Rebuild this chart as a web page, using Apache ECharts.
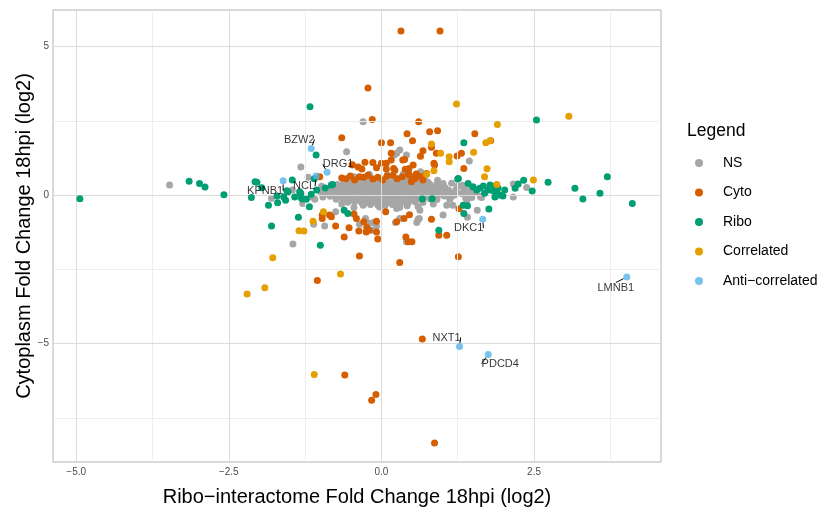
<!DOCTYPE html>
<html><head><meta charset="utf-8">
<script src="https://cdn.jsdelivr.net/npm/echarts@6/dist/echarts.min.js"></script>
<style>html,body{margin:0;padding:0;background:#fff}#c{width:829px;height:510px}</style>
</head><body><div id="c"></div>
<script>
// ---- data ----
const xTicks = [-5, -2.5, 0, 2.5];
const yTicks = [-5, 0, 5];
const xMinorGrid = [-3.75, -1.25, 1.25, 3.75];
const yMinorGrid = [-7.5, -2.5, 2.5];
const legendNames = ['NS', 'Cyto', 'Ribo', 'Correlated', 'Anti\u2212correlated'];

const nsPts = [
 [-0.30,0.57],[-0.18,0.59],[-0.05,0.56],[0.08,0.58],[0.20,0.57],[0.32,0.55],[0.44,0.58],
 [-0.58,0.47],[-0.47,0.49],[-0.36,0.46],[-0.25,0.48],[-0.14,0.45],[-0.03,0.47],[0.09,0.49],[0.20,0.46],[0.31,0.47],[0.42,0.48],[0.53,0.45],[0.65,0.47],[0.76,0.44],
 [-0.72,0.36],[-0.62,0.38],[-0.52,0.37],[-0.42,0.35],[-0.31,0.38],[-0.20,0.37],[-0.09,0.36],[0.02,0.39],[0.13,0.37],[0.24,0.35],[0.35,0.38],[0.46,0.37],[0.57,0.36],[0.68,0.38],[0.79,0.37],[0.90,0.34],
 [-0.83,0.26],[-0.72,0.28],[-0.61,0.27],[-0.50,0.25],[-0.39,0.28],[-0.28,0.27],[-0.17,0.26],[-0.06,0.29],[0.05,0.27],[0.16,0.25],[0.27,0.28],[0.38,0.27],[0.49,0.26],[0.60,0.29],[0.71,0.27],[0.82,0.25],[0.93,0.28],[1.04,0.26],
 [-0.88,0.16],[-0.77,0.18],[-0.66,0.17],[-0.55,0.15],[-0.44,0.18],[-0.33,0.17],[-0.22,0.16],[-0.11,0.19],[0.00,0.17],[0.11,0.15],[0.22,0.18],[0.33,0.17],[0.44,0.16],[0.55,0.19],[0.66,0.17],[0.77,0.15],[0.88,0.18],[0.99,0.17],[1.10,0.16],[1.22,0.18],
 [-0.91,0.06],[-0.79,0.08],[-0.68,0.07],[-0.57,0.05],[-0.46,0.08],[-0.35,0.07],[-0.24,0.06],[-0.13,0.09],[-0.02,0.07],[0.09,0.05],[0.20,0.08],[0.31,0.07],[0.42,0.06],[0.53,0.09],[0.64,0.07],[0.75,0.05],[0.86,0.08],[0.97,0.07],[1.08,0.06],[1.19,0.08],[1.31,0.05],
 [-0.84,-0.04],[-0.73,-0.02],[-0.62,-0.03],[-0.51,-0.05],[-0.40,-0.02],[-0.29,-0.03],[-0.18,-0.04],[-0.07,-0.01],[0.04,-0.03],[0.15,-0.05],[0.26,-0.02],[0.37,-0.03],[0.48,-0.04],[0.59,-0.01],[0.70,-0.03],[0.81,-0.05],[0.92,-0.02],[1.03,-0.03],[1.15,-0.05],
 [-0.74,-0.14],[-0.63,-0.12],[-0.52,-0.13],[-0.41,-0.15],[-0.30,-0.12],[-0.19,-0.13],[-0.08,-0.14],[0.03,-0.11],[0.14,-0.13],[0.25,-0.15],[0.36,-0.12],[0.47,-0.13],[0.58,-0.14],[0.69,-0.11],[0.80,-0.13],[0.91,-0.15],
 [-0.55,-0.24],[-0.44,-0.22],[-0.33,-0.23],[-0.22,-0.25],[-0.11,-0.22],[0.00,-0.23],[0.11,-0.24],[0.22,-0.21],[0.33,-0.23],[0.44,-0.25],[0.55,-0.22],[0.68,-0.25],
 [-0.30,-0.34],[-0.18,-0.32],[-0.06,-0.33],[0.06,-0.35],[0.18,-0.32],[0.30,-0.33],[0.42,-0.36],
 [-1.00,0.12],[-0.96,-0.06],[-0.98,0.30],[1.35,0.20],[1.42,0.04],[1.50,0.12],[1.38,-0.10],[1.25,0.31],[1.15,0.40],[1.01,0.39],[-0.45,-0.42],[0.60,-0.38],[0.85,-0.30],[-0.65,-0.30],
 [1.12,-0.14],[1.40,-0.17],[1.33,0.33],[1.46,0.21],[1.55,0.10],[1.62,-0.05],[1.07,-0.34],[0.63,-0.51],[0.25,-0.45],[-0.03,-0.40],[0.30,-0.41],[1.17,-0.34],[1.20,0.00],[1.48,-0.08],[1.64,-0.08],
 [-3.47,0.34],[-0.30,2.47],[-0.57,1.46],[-1.32,0.95],[-1.20,0.60],[-1.80,-0.11],[-1.46,0.17],[-1.29,-0.28],[-0.93,-1.04],[-1.45,-1.65],
 [-0.85,0.19],[-0.79,0.06],[-1.15,-0.06],[-1.09,-0.14],[-0.47,1.01],[0.30,1.52],[0.41,1.35],[0.25,1.41],[0.21,1.35],
 [1.44,1.15],[2.16,0.37],[2.38,0.26],[2.16,-0.06],[1.57,-0.51],[1.41,-0.75],[1.01,-0.67],[0.60,-0.81],[0.64,0.79],
 [-1.11,-0.98],[-0.75,-0.56],[-0.36,-0.98],[-0.26,-0.79],[-0.19,-0.95],[-0.15,-1.18],[-0.13,-0.92],[-0.08,-1.04],[0.23,-0.92],[0.58,-0.92],[0.62,-0.79],[0.41,-1.57],[0.30,-0.79],
 [-0.20,0.70],[0.10,0.68],[0.36,0.71],[-0.45,0.62],[0.70,0.58],[0.92,0.50]
];

const cytoPts = [
 [0.32,5.53],[0.96,5.53],[-0.22,3.61],[-0.15,2.55],[0.61,2.47],[-0.65,1.93],[0.42,2.07],[0.51,1.83],[0.00,1.76],[0.15,1.76],
 [0.68,1.49],[0.16,1.41],[0.35,1.18],[-0.27,1.11],[-0.14,1.10],[0.79,2.13],[0.92,2.17],[1.53,2.07],[0.82,1.61],[1.31,1.41],
 [1.24,1.32],[0.64,1.31],[0.86,1.07],[0.38,1.20],[0.52,1.01],[0.44,0.81],[0.57,0.71],[0.66,0.62],[0.49,0.45],[0.90,1.41],
 [1.79,1.83],[1.35,0.90],[0.16,1.18],[0.08,1.07],[0.22,0.84],[0.45,0.90],[0.46,0.67],[0.74,0.73],[0.87,1.01],[0.55,0.56],
 [-0.38,0.95],[-0.32,0.88],[-0.08,0.92],[0.08,0.88],[0.20,0.90],[0.39,0.87],[-0.65,0.58],[-0.58,0.55],[-0.51,0.64],[-0.44,0.51],
 [-0.36,0.62],[-0.29,0.60],[-0.22,0.67],[-0.14,0.54],[-0.06,0.60],[0.02,0.51],[0.09,0.64],[0.19,0.67],[0.26,0.55],[0.34,0.62],
 [0.44,0.71],[0.52,0.56],[0.60,0.64],[0.68,0.51],[0.00,1.07],[-0.48,1.02],[-1.01,0.62],
 [-0.97,-0.67],[-0.82,-0.73],[-0.97,-0.79],[-0.75,-1.04],[-0.53,-1.10],[-0.61,-1.41],[-0.41,-0.79],[-0.24,-1.09],[-0.20,-1.18],[-0.08,-1.24],
 [0.25,-0.90],[0.37,-0.79],[0.40,-1.41],[0.44,-1.57],[0.50,-1.57],[-0.36,-2.05],[0.30,-2.27],[1.26,-2.08],[-1.05,-2.88],[0.67,-4.85],
 [-0.60,-6.06],[-0.09,-6.72],[-0.16,-6.91],[0.87,-8.35],[-0.06,-1.48],[0.94,-1.35],[1.07,-1.35],[0.82,-0.81],[-0.37,-1.21],[-0.29,-0.90],
 [-0.25,-1.24],[-0.08,-0.88],[0.46,-0.66],[0.07,-0.56],[-0.45,-0.64],[-0.85,-0.67],[1.27,-0.46]
];

const riboPts = [
 [-4.94,-0.12],[-3.15,0.47],[-2.98,0.39],[-2.89,0.27],[-2.58,0.01],[-2.07,0.45],[-2.13,-0.08],[-2.04,0.43],[-1.96,0.25],[-1.17,2.98],
 [-1.07,1.35],[-1.80,-1.04],[-1.85,-0.34],[-1.70,-0.26],[-1.57,-0.17],[-1.60,-0.06],[-1.53,0.11],[-1.46,0.51],[-1.42,-0.06],[-1.34,0.11],
 [-1.31,-0.11],[-1.29,-0.13],[-1.18,-0.39],[-1.36,-0.75],[-1.00,-1.69],[-0.80,0.36],[-0.61,-0.51],[-0.55,-0.62],[-1.71,-0.03],[-1.55,0.15],
 [-1.32,0.06],[-1.23,-0.14],[-1.15,0.03],[-1.10,0.55],[-0.92,0.24],[-0.82,0.34],[-1.06,0.17],
 [2.54,2.53],[1.35,1.76],[1.26,0.56],[1.42,0.39],[1.50,0.28],[1.61,0.23],[1.67,0.31],[1.78,0.34],[1.75,0.17],[1.83,0.14],
 [1.89,0.06],[1.94,0.00],[1.99,-0.03],[1.86,-0.06],[2.19,0.23],[2.24,0.37],[2.33,0.50],[2.47,0.14],[2.73,0.43],[3.17,0.23],
 [3.30,-0.13],[3.58,0.06],[3.70,0.62],[4.11,-0.28],[0.67,-0.13],[0.83,-0.12],[1.34,-0.34],[1.41,-0.36],[1.35,-0.62],[1.76,-0.47],
 [0.94,-1.18],[1.56,0.17],[1.69,0.06],[2.02,0.17],[1.91,0.24],[1.25,0.54],[1.83,0.30]
];

const corrPts = [
 [1.23,3.07],[3.07,2.66],[1.90,2.38],[1.71,1.76],[1.78,1.83],[1.51,1.44],[0.97,1.41],[1.11,1.29],[1.11,1.12],[0.82,1.72],
 [1.73,0.89],[1.69,0.62],[1.89,0.36],[2.49,0.51],[0.86,0.82],[0.74,0.70],[-0.95,-0.56],[-1.12,-0.88],[-1.35,-1.20],[-1.27,-1.21],
 [-1.78,-2.11],[-2.20,-3.33],[-1.91,-3.12],[-0.67,-2.66],[-1.10,-6.04]
];

const antiNames = ['LMNB1', 'NXT1', 'PDCD4', 'DKC1', 'BZW2', 'DRG1', 'NCL', 'KPNB1'];
const antiX = [4.02, 1.28, 1.75, 1.66, -1.15, -0.89, -1.07, -1.61];
const antiY = [-2.76, -5.10, -5.37, -0.81, 1.57, 0.77, 0.64, 0.48];

// ---- styles ----
const colors = ['#A6A6A6', '#D55E00', '#009E73', '#E69F00', '#56B4E9'];
const labelOffsets = [[-11,11],[-13,-9],[12,9],[-14,9],[-12,-9],[11,-8],[-12,10],[-18,10]];
const FONT = 'Liberation Sans, Arial, Helvetica, sans-serif';
const X_MIN = -5.38, X_MAX = 4.58, Y_MIN = -8.99, Y_MAX = 6.235;
const fmtMinus = v => String(v).replace('-', '\u2212');

const chart = echarts.init(document.getElementById('c'), null, {renderer: 'canvas'});

const gridLine = (axis, vals, w, c) => vals.map(v => ({[axis]: v, lineStyle: {width: w, color: c, type: 'solid'}}));

const pointSeries = (name, pts, idx) => ({
  name, type: 'scatter', data: pts, symbolSize: 7, z: 3 + idx,
  large: false, progressive: 0,
  itemStyle: {color: colors[idx], opacity: 1}, emphasis: {disabled: true}, silent: true
});

chart.setOption({
  animation: false,
  color: colors,
  textStyle: {fontFamily: FONT},
  grid: {left: 53, right: 168, top: 10, bottom: 48, show: true, borderColor: '#b3b3b3', borderWidth: 1,
         backgroundColor: 'transparent', containLabel: false, outerBoundsMode: 'none'},
  title: {text: 'Legend', left: 682, top: 117, textStyle: {fontSize: 17.5, fontWeight: 'normal', color: '#000', fontFamily: FONT}},
  legend: {
    data: legendNames, orient: 'vertical', left: 690, top: 151, itemGap: 15.5,
    icon: 'circle', itemWidth: 30, itemHeight: 8,
    textStyle: {fontSize: 14, color: '#000', fontFamily: FONT, padding: [0, 0, 0, 4]},
    selectedMode: false
  },
  xAxis: {
    type: 'value', min: X_MIN, max: X_MAX,
    name: 'Ribo\u2212interactome Fold Change 18hpi (log2)', nameLocation: 'middle', nameGap: 25,
    nameTextStyle: {fontSize: 20, color: '#000', fontFamily: FONT},
    axisLine: {show: false},
    axisTick: {show: true, customValues: xTicks, length: 3, lineStyle: {color: '#b3b3b3'}},
    axisLabel: {customValues: xTicks, formatter: v => fmtMinus(v.toFixed(1)), fontSize: 10, color: '#4d4d4d', margin: 5, fontFamily: FONT},
    splitLine: {show: false}
  },
  yAxis: {
    type: 'value', min: Y_MIN, max: Y_MAX,
    name: 'Cytoplasm Fold Change 18hpi (log2)', nameLocation: 'middle', nameGap: 19, nameMoveOverlap: false,
    nameTextStyle: {fontSize: 20, color: '#000', fontFamily: FONT},
    axisLine: {show: false},
    axisTick: {show: true, customValues: yTicks, length: 3, lineStyle: {color: '#b3b3b3'}},
    axisLabel: {customValues: yTicks, formatter: v => fmtMinus(Math.round(v)), fontSize: 10, color: '#4d4d4d', margin: 4, fontFamily: FONT},
    splitLine: {show: false}
  },
  series: [
    {
      type: 'scatter', data: [[0, 0]], symbolSize: 0, z: 1, silent: true,
      markLine: {
        silent: true, symbol: 'none', label: {show: false}, animation: false,
        data: [
          ...gridLine('xAxis', xMinorGrid, 1, '#ededed'),
          ...gridLine('yAxis', yMinorGrid, 1, '#ededed'),
          ...gridLine('xAxis', xTicks, 1, '#dcdcdc'),
          ...gridLine('yAxis', yTicks, 1, '#dcdcdc')
        ]
      }
    },
    pointSeries('NS', nsPts, 0),
    pointSeries('Cyto', cytoPts, 1),
    pointSeries('Ribo', riboPts, 2),
    pointSeries('Correlated', corrPts, 3),
    {
      name: 'Anti\u2212correlated', type: 'scatter', symbolSize: 7, z: 10, silent: true,
      itemStyle: {color: colors[4]},
      data: antiNames.map((n, i) => ({name: n, value: [antiX[i], antiY[i]]})),
      label: {show: true, formatter: '{b}', position: 'inside', fontSize: 11, color: '#000', fontFamily: FONT},
      labelLine: {show: true, lineStyle: {color: '#000', width: 1}},
      labelLayout: p => ({dx: labelOffsets[p.dataIndex][0], dy: labelOffsets[p.dataIndex][1]})
    }
  ]
});
</script></body></html>
